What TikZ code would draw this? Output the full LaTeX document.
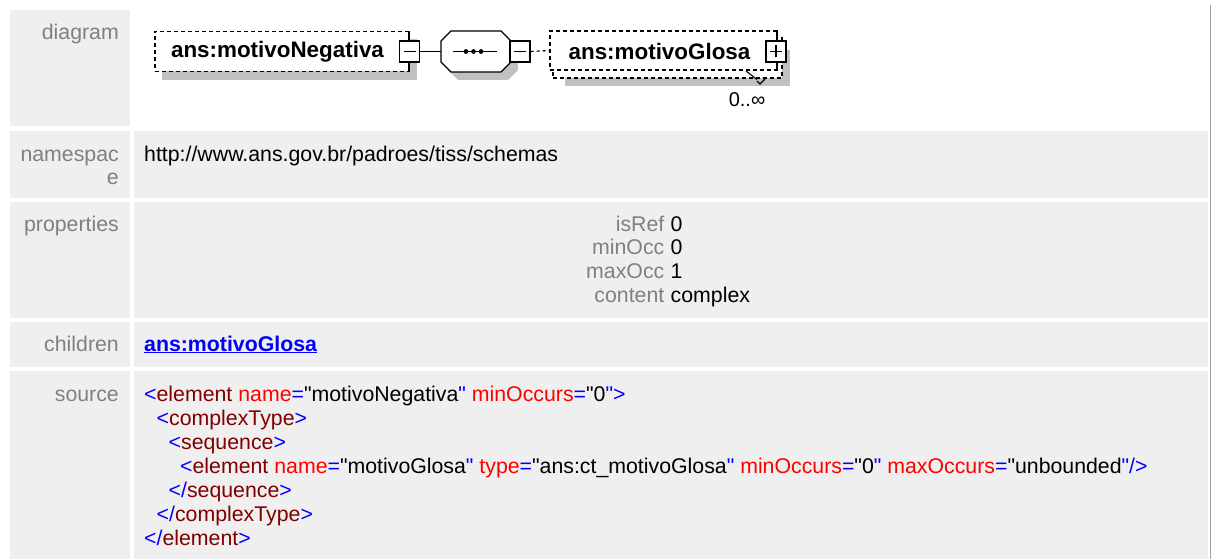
\documentclass[tikz,border=0pt]{standalone}
\usepackage{fontspec}
\setmainfont{Liberation Sans}
\newfontfamily\plainfont{Liberation Sans}
\definecolor{cellgray}{HTML}{EFEFEF}
\definecolor{lblgray}{HTML}{808080}
\definecolor{shadowc}{HTML}{C0C0C0}
\definecolor{xmlblue}{HTML}{0000FF}
\definecolor{xmlmaroon}{HTML}{800000}
\definecolor{xmlred}{HTML}{FF0000}
\definecolor{edgegray}{HTML}{A0A0A0}
\newcommand{\lblfont}{\plainfont\fontsize{21.3}{24}\selectfont}
\newcommand{\dgfont}{\plainfont\fontsize{22.4}{26}\selectfont\bfseries}
\newcommand{\xblu}[1]{\textcolor{xmlblue}{#1}}
\newcommand{\xmar}[1]{\textcolor{xmlmaroon}{#1}}
\newcommand{\xred}[1]{\textcolor{xmlred}{#1}}
\tikzset{
  cell/.style={fill=cellgray},
  lbl/.style={anchor=base east, inner sep=0pt, text=lblgray, font=\lblfont},
  val/.style={anchor=base west, inner sep=0pt, text=black, font=\lblfont},
  shadowfill/.style={fill=shadowc},
  dbox/.style={draw=black, line width=1.2pt, dash pattern=on 4pt off 3pt, fill=white, inner sep=0pt},
  pmbox/.style={draw=black, line width=1.2pt, fill=white, minimum width=20pt, minimum height=21pt, inner sep=0pt},
  dgtext/.style={inner sep=0pt, font=\dgfont},
  conn/.style={draw=black, line width=1.2pt},
  optconn/.style={draw=black, line width=1.2pt, dash pattern=on 3pt off 3pt},
}
\begin{document}
\begin{tikzpicture}[x=1pt,y=-1pt]
\useasboundingbox (0,0) rectangle (1217,559);
% table cells
\fill[cell] (10,10) rectangle (130,126.5);
\fill[cell] (10,130.5) rectangle (130,198);
\fill[cell] (134,130.5) rectangle (1207.5,198);
\fill[cell] (10,202) rectangle (130,318);
\fill[cell] (134,202) rectangle (1207.5,318);
\fill[cell] (10,322) rectangle (130,367);
\fill[cell] (134,322) rectangle (1207.5,367);
\fill[cell] (10,371) rectangle (130,559);
\fill[cell] (134,371) rectangle (1207.5,559);
\draw[edgegray, line width=1.3pt] (1210.5,5) -- (1210.5,559);
% labels
\node[lbl] (ldiag) at (119,40) {diagram};
\node[lbl] (lns1) at (119,161) {namespac};
\node[lbl] (lns2) at (119,184.5) {e};
\node[lbl] (lprop) at (119,231) {properties};
\node[lbl] (lchild) at (119,351) {children};
\node[lbl] (lsrc) at (119,401) {source};
% namespace
\node[val] (ns) at (144,161) {http://www.ans.gov.br/padroes/tiss/schemas};
% properties
\node[lbl] (k1) at (664.5,231) {isRef};
\node[val] (v1) at (670.5,231) {0};
\node[lbl] (k2) at (664.5,254.7) {minOcc};
\node[val] (v2) at (670.5,254.7) {0};
\node[lbl] (k3) at (664.5,278.4) {maxOcc};
\node[val] (v3) at (670.5,278.4) {1};
\node[lbl] (k4) at (664.5,302) {content};
\node[val] (v4) at (670.5,302) {complex};
% children
\node[val, text=xmlblue, font=\lblfont\bfseries] (child) at (144,351) {\underline{ans:motivoGlosa}};
% source
\node[val] (s1) at (144,401) {\xblu{<}\xmar{element} \xred{name}\xblu{=}"motivoNegativa\xblu{"} \xred{minOccurs}\xblu{=}"0\xblu{">}};
\node[val] (s2) at (156.5,425) {\xblu{<}\xmar{complexType}\xblu{>}};
\node[val] (s3) at (168.5,449) {\xblu{<}\xmar{sequence}\xblu{>}};
\node[val] (s4) at (180,473) {\xblu{<}\xmar{element} \xred{name}\xblu{=}"motivoGlosa\xblu{"} \xred{type}\xblu{=}"ans:ct\_motivoGlosa\xblu{"} \xred{minOccurs}\xblu{=}"0\xblu{"} \xred{maxOccurs}\xblu{=}"unbounded\xblu{"/>}};
\node[val] (s5) at (168.5,497) {\xblu{</}\xmar{sequence}\xblu{>}};
\node[val] (s6) at (156.5,521) {\xblu{</}\xmar{complexType}\xblu{>}};
\node[val] (s7) at (144,545) {\xblu{</}\xmar{element}\xblu{>}};
% ---------- diagram ----------
% element motivoNegativa
\fill[shadowfill] (162,39) rectangle (417,80);
\node[dbox, minimum width=254pt, minimum height=40pt] (b1) at (282,51.5) {};
\draw[line width=1.2pt] (409,31.5) -- (409,71.5);
\node[dgtext] (t1) at (277.5,51.5) {ans:motivoNegativa};
\node[pmbox] (m1) at (409.5,51.5) {};
\draw[line width=1.2pt] ([xshift=-6pt]m1.center) -- ([xshift=6pt]m1.center);
% sequence
\fill[shadowfill] (448,49) -- (458,39) -- (508,39) -- (518,49) -- (518,70) -- (508,80) -- (458,80) -- (448,70) -- cycle;
\node[inner sep=0pt, minimum width=70pt, minimum height=41pt] (seq) at (476,51.5) {};
\draw[line width=1.2pt, fill=white] (441,41) -- (451,31) -- (501,31) -- (511,41) -- (511,62) -- (501,72) -- (451,72) -- (441,62) -- cycle;
\draw[line width=1.4pt] (453,51.5) -- (497,51.5);
\foreach \dx in {466,473.5,481} \fill (\dx,51.5) circle (2.4pt);
\node[pmbox] (m2) at (520,51.5) {};
\draw[line width=1.2pt] ([xshift=-6pt]m2.center) -- ([xshift=6pt]m2.center);
\draw[conn] (m1.east) -- (seq.west);
% element motivoGlosa (0..unbounded)
\fill[shadowfill] (565,50) rectangle (790,86);
\node[dbox, minimum width=229pt, minimum height=40pt] (b2back) at (667.5,58) {};
\node[dbox, minimum width=227pt, minimum height=39pt] (b2) at (663.5,50.5) {};
\draw[line width=1.2pt] (777,31) -- (777,70);
\node[dgtext] (t2) at (659.5,51.5) {ans:motivoGlosa};
\node[pmbox] (p2) at (776,51.5) {};
\draw[line width=1.2pt] ([xshift=-6pt]p2.center) -- ([xshift=6pt]p2.center);
\draw[line width=1.2pt] ([yshift=-6pt]p2.center) -- ([yshift=6pt]p2.center);
\draw[optconn] (m2.east) -- (b2.west);
\draw[line width=1.1pt] (746,71) -- (757,79.5);
\draw[line width=1.1pt] (757,81) -- (760,84) -- (765,79);
\node[inner sep=0pt, font=\plainfont\fontsize{20}{22}\selectfont] (card) at (747,100) {0..∞};
\end{tikzpicture}
\end{document}
